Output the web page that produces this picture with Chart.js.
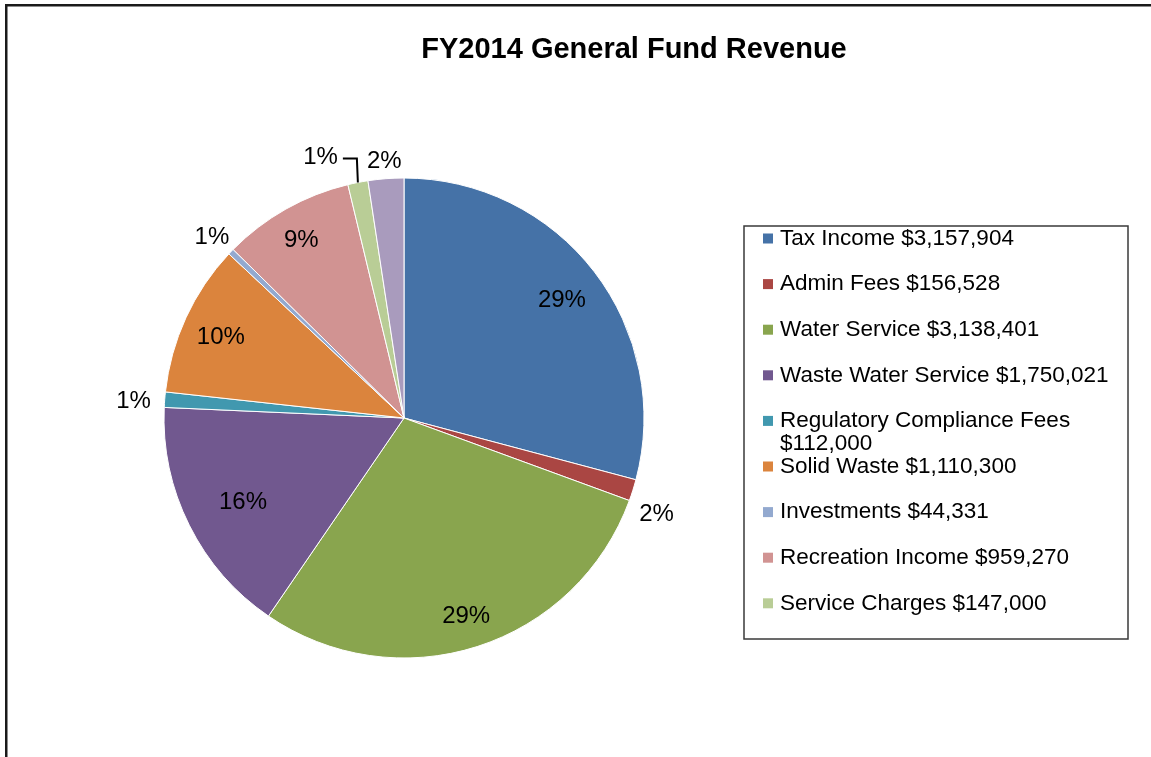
<!DOCTYPE html>
<html><head><meta charset="utf-8">
<script src="https://cdn.jsdelivr.net/npm/chart.js@4.4.0/dist/chart.umd.min.js"></script>
<style>html,body{margin:0;padding:0;background:#fff;overflow:hidden}</style>
</head><body>
<canvas id="c" width="1151" height="757"></canvas>
<script>
const titleText = 'FY2014 General Fund Revenue';
const categories = ['Tax Income', 'Admin Fees', 'Water Service', 'Waste Water Service', 'Regulatory Compliance Fees', 'Solid Waste', 'Investments', 'Recreation Income', 'Service Charges', 'Other'];
const revenues = [3157904, 156528, 3138401, 1750021, 112000, 1110300, 44331, 959270, 147000, 260000];
const percentLabels = ['29%', '2%', '29%', '16%', '1%', '10%', '1%', '9%', '1%', '2%'];
const legendCount = 9;

// styles
const sliceColors = ['#4572A7', '#AA4643', '#89A54E', '#71588F', '#4198AF', '#DB843D', '#93A9CF', '#D19392', '#B9CD96', '#A99BBD'];
const labelRadius = [0.83, 1.12, 0.85, 0.75, 1.13, 0.84, 1.11, 0.87, 1.0, 1.09];
const labelAngleShift = [0, 2.5, 0, 0, 0, 0, 0, 0, 0, 0];
const leaderIndex = 8;
const FONT = '"Liberation Sans", Arial, sans-serif';

function fmtMoney(v) { return '$' + v.toLocaleString('en-US'); }

const framePlugin = {
  id: 'frame',
  beforeDraw(chart) {
    const ctx = chart.ctx;
    ctx.save();
    ctx.fillStyle = '#fff';
    ctx.fillRect(0, 0, chart.width, chart.height);
    ctx.fillStyle = '#1a1a1a';
    ctx.fillRect(5, 4, chart.width - 5, 2.5);
    ctx.fillRect(5, 4, 2.5, chart.height - 4);
    ctx.fillStyle = '#000';
    ctx.font = 'bold 29px ' + FONT;
    ctx.textAlign = 'center';
    ctx.textBaseline = 'alphabetic';
    ctx.fillText(titleText, 634, 58);
    ctx.restore();
  }
};

const labelPlugin = {
  id: 'pctLabels',
  afterDatasetsDraw(chart) {
    const ctx = chart.ctx;
    const meta = chart.getDatasetMeta(0);
    ctx.save();
    ctx.font = '24px ' + FONT;
    ctx.fillStyle = '#000';
    ctx.textBaseline = 'middle';
    const dy = 4;
    meta.data.forEach((arc, i) => {
      const p = arc.getProps(['x', 'y', 'startAngle', 'endAngle', 'outerRadius'], true);
      const mid = (p.startAngle + p.endAngle) / 2 + labelAngleShift[i] * Math.PI / 180;
      if (i === leaderIndex) {
        const ex = p.x + Math.cos(mid) * p.outerRadius;
        const ey = p.y + Math.sin(mid) * p.outerRadius;
        ctx.strokeStyle = '#000';
        ctx.lineWidth = 2;
        ctx.beginPath();
        ctx.moveTo(ex, ey);
        ctx.lineTo(ex - 1, ey - 24);
        ctx.lineTo(ex - 15, ey - 24);
        ctx.stroke();
        ctx.textAlign = 'right';
        ctx.fillText(percentLabels[i], ex - 20, ey - 25);
        return;
      }
      const r = p.outerRadius * labelRadius[i];
      ctx.textAlign = 'center';
      ctx.fillText(percentLabels[i], p.x + Math.cos(mid) * r, p.y + Math.sin(mid) * r + dy);
    });
    ctx.restore();
  }
};

const legendPlugin = {
  id: 'boxLegend',
  afterDraw(chart) {
    const ctx = chart.ctx;
    const bx = 744, by = 226, bw = 384, bh = 413;
    ctx.save();
    ctx.strokeStyle = '#3a3a3a';
    ctx.lineWidth = 1.5;
    ctx.strokeRect(bx, by, bw, bh);
    ctx.font = '22.5px ' + FONT;
    ctx.textBaseline = 'middle';
    ctx.textAlign = 'left';
    const maxW = 345;
    const ds = chart.data.datasets[0];
    for (let i = 0; i < legendCount; i++) {
      const y = 238.5 + 45.6 * i;
      ctx.fillStyle = ds.backgroundColor[i];
      ctx.fillRect(763, y - 5, 10, 10);
      ctx.fillStyle = '#000';
      const words = (chart.data.labels[i] + ' ' + fmtMoney(ds.data[i])).split(' ');
      const lines = [];
      let cur = '';
      words.forEach(w => {
        const t = cur ? cur + ' ' + w : w;
        if (ctx.measureText(t).width > maxW && cur) { lines.push(cur); cur = w; } else cur = t;
      });
      lines.push(cur);
      lines.forEach((ln, k) => ctx.fillText(ln, 780, y + k * 23));
    }
    ctx.restore();
  }
};

new Chart(document.getElementById('c'), {
  type: 'pie',
  data: {
    labels: categories,
    datasets: [{
      data: revenues,
      backgroundColor: sliceColors,
      borderColor: '#ffffff',
      borderWidth: 1
    }]
  },
  options: {
    responsive: false,
    animation: false,
    events: [],
    radius: 240,
    layout: { padding: { left: 160, right: 503, top: 170, bottom: 91 } },
    plugins: { legend: { display: false }, title: { display: false }, tooltip: { enabled: false } }
  },
  plugins: [framePlugin, labelPlugin, legendPlugin]
});
</script>
</body></html>
